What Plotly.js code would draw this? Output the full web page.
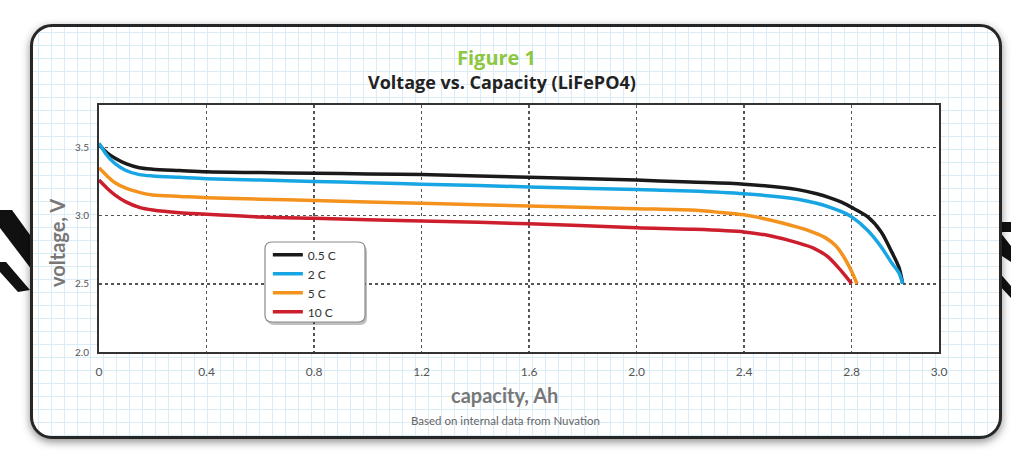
<!DOCTYPE html>
<html>
<head>
<meta charset="utf-8">
<script src="https://cdn.plot.ly/plotly-3.0.1.min.js"></script>
<style>
  html, body { margin:0; padding:0; background:#ffffff; }
  #wrap { position:relative; width:1011px; height:473px; overflow:hidden; background:#fff; }
  #deco { position:absolute; left:0; top:0; }
  #card { position:absolute; left:30px; top:24px; width:966px; height:409px;
          border:3px solid #262626; border-radius:22px;
          box-shadow: 0 3px 8px rgba(0,0,0,0.45);
          background-color:#ffffff;
          background-image:
            linear-gradient(to right, #d9ecf7 1px, transparent 1px),
            linear-gradient(to bottom, #d9ecf7 1px, transparent 1px);
          background-size: 13px 13px; background-position: 5px 5px; }
  #chart { position:absolute; left:0; top:0; width:1011px; height:473px; }
</style>
</head>
<body>
<div id="wrap">
  <svg id="deco" width="1011" height="473">
    <polygon points="0,210 12,210 38,246 38,278 0,228" fill="#111"/>
    <polygon points="0,262 6,262 30,290 18,292 0,272" fill="#111"/>
    <polygon points="978,222 1011,222 1011,232 1000,232 1011,246 1011,262 978,240" fill="#111"/>
    <polygon points="985,256 1011,286 1011,298 985,270" fill="#111"/>
  </svg>
  <div id="card"></div>
  <div id="chart"></div>
</div>
<script>
// ---- data ----
const seriesNames = ["0.5 C", "2 C", "5 C", "10 C"];

const cap05 = [0, 0.03, 0.06, 0.10, 0.15, 0.20, 0.30, 0.40, 0.60, 0.80, 1.00, 1.20, 1.60, 2.00, 2.20, 2.40, 2.60, 2.67, 2.72, 2.76, 2.80, 2.86, 2.91, 2.95, 2.976, 2.99];
const volt05 = [3.52, 3.46, 3.42, 3.38, 3.35, 3.34, 3.33, 3.32, 3.315, 3.31, 3.305, 3.30, 3.28, 3.26, 3.245, 3.23, 3.19, 3.16, 3.13, 3.10, 3.06, 2.99, 2.88, 2.73, 2.62, 2.50];

const cap2 = [0, 0.03, 0.06, 0.10, 0.15, 0.20, 0.30, 0.40, 0.60, 0.80, 1.00, 1.20, 1.60, 2.00, 2.20, 2.40, 2.60, 2.67, 2.72, 2.76, 2.80, 2.86, 2.91, 2.95, 2.976, 2.99];
const volt2 = [3.53, 3.44, 3.38, 3.33, 3.30, 3.29, 3.28, 3.27, 3.26, 3.25, 3.24, 3.23, 3.21, 3.19, 3.18, 3.16, 3.12, 3.09, 3.06, 3.03, 2.99, 2.89, 2.77, 2.65, 2.58, 2.50];

const cap5 = [0, 0.03, 0.06, 0.10, 0.15, 0.20, 0.30, 0.40, 0.60, 0.80, 1.00, 1.20, 1.60, 2.00, 2.20, 2.30, 2.40, 2.50, 2.58, 2.64, 2.70, 2.74, 2.77, 2.80, 2.82];
const volt5 = [3.35, 3.29, 3.24, 3.20, 3.17, 3.15, 3.14, 3.13, 3.12, 3.11, 3.10, 3.09, 3.07, 3.05, 3.04, 3.025, 3.005, 2.965, 2.925, 2.89, 2.84, 2.78, 2.70, 2.59, 2.50];

const cap10 = [0, 0.03, 0.06, 0.10, 0.15, 0.20, 0.30, 0.40, 0.60, 0.80, 1.00, 1.20, 1.60, 2.00, 2.20, 2.40, 2.50, 2.60, 2.66, 2.71, 2.75, 2.78, 2.80];
const volt10 = [3.26, 3.20, 3.15, 3.10, 3.06, 3.04, 3.02, 3.01, 2.99, 2.98, 2.97, 2.96, 2.94, 2.91, 2.90, 2.88, 2.85, 2.80, 2.76, 2.70, 2.62, 2.55, 2.50];

const xTickVals = [0, 0.4, 0.8, 1.2, 1.6, 2.0, 2.4, 2.8, 3.125];
const xTickText = ["0", "0.4", "0.8", "1.2", "1.6", "2.0", "2.4", "2.8", "3.0"];
const yTickVals = [2.0, 2.5, 3.0, 3.5];
const yTickText = ["2.0", "2.5", "3.0", "3.5"];

const colors = ["#1a1a1a", "#17a6e3", "#f4921e", "#cc1e2d"];
const xs = [cap05, cap2, cap5, cap10];
const ys = [volt05, volt2, volt5, volt10];

const traces = seriesNames.map((n, i) => ({
  type: "scatter", mode: "lines", name: n,
  x: xs[i], y: ys[i],
  line: { color: colors[i], width: 3.5, shape: "spline", smoothing: 0.8 },
  hoverinfo: "skip"
}));

const FONT = "Lato, 'Open Sans', sans-serif";
const TFONT = "'Open Sans', Lato, sans-serif";

// legend box (paper coords)
const bx0 = 0.1976, bx1 = 0.3167, byT = 0.4453, byB = 0.1215;
const rx = 7/840, ry = 7/247;
const boxPath = `M ${bx0+rx} ${byT} L ${bx1-rx} ${byT} Q ${bx1} ${byT} ${bx1} ${byT-ry} L ${bx1} ${byB+ry} Q ${bx1} ${byB} ${bx1-rx} ${byB} L ${bx0+rx} ${byB} Q ${bx0} ${byB} ${bx0} ${byB+ry} L ${bx0} ${byT-ry} Q ${bx0} ${byT} ${bx0+rx} ${byT} Z`;
const shadowPath = boxPath.replace(/([\d.]+) ([\d.]+)/g, (m, a, b) => `${(+a + 2/840).toFixed(5)} ${(+b - 3/247).toFixed(5)}`);

const layout = {
  width: 1011, height: 473,
  margin: { l: 99, r: 72, t: 105, b: 121 },
  paper_bgcolor: "rgba(0,0,0,0)",
  plot_bgcolor: "#ffffff",
  font: { family: FONT, color: "#555" },
  showlegend: true,
  legend: {
    x: 0.201, y: 0.452, xanchor: "left", yanchor: "top",
    bgcolor: "rgba(0,0,0,0)", borderwidth: 0,
    font: { family: FONT, size: 12, color: "#333" },
    tracegroupgap: 0, itemwidth: 30
  },
  xaxis: {
    range: [0, 3.125], tickvals: xTickVals, ticktext: xTickText,
    showgrid: true, gridcolor: "#555", griddash: "dot", gridwidth: 1.5,
    zeroline: false, showline: true, mirror: true, linecolor: "#333", linewidth: 2,
    ticks: "", ticklabelstandoff: 8,
    tickfont: { family: FONT, size: 12, color: "#555" }
  },
  yaxis: {
    range: [2.0, 3.81], tickvals: yTickVals, ticktext: yTickText,
    showgrid: true, gridcolor: "#555", griddash: "dot", gridwidth: 1.5,
    zeroline: false, showline: true, mirror: true, linecolor: "#333", linewidth: 2,
    ticks: "", ticklabelstandoff: 6,
    tickfont: { family: FONT, size: 10, color: "#555" }
  },
  shapes: [
    { type: "path", xref: "paper", yref: "paper", path: shadowPath, layer: "above",
      fillcolor: "rgba(0,0,0,0.25)", line: { width: 0 } },
    { type: "path", xref: "paper", yref: "paper", path: boxPath, layer: "above",
      fillcolor: "#ffffff", line: { color: "#8a8a8a", width: 1.2 } }
  ],
  annotations: [
    { text: "<b>Figure 1</b>", xref: "paper", yref: "paper", x: 0.5, y: 1,
      xanchor: "center", yanchor: "middle", showarrow: false,
      font: { family: TFONT, size: 20, color: "#8dc63f" } },
    { text: "<b>Voltage vs. Capacity (LiFePO4)</b>", xref: "paper", yref: "paper", x: 0.5, y: 1,
      xanchor: "center", yanchor: "middle", showarrow: false,
      font: { family: TFONT, size: 18, color: "#222" } },
    { text: "<b>capacity, Ah</b>", xref: "paper", yref: "paper", x: 0.5, y: 0,
      xanchor: "center", yanchor: "middle", showarrow: false,
      font: { family: FONT, size: 20, color: "#777" } },
    { text: "<b>voltage, V</b>", xref: "paper", yref: "paper", x: 0, y: 0.5, textangle: -90,
      xanchor: "center", yanchor: "middle", showarrow: false,
      font: { family: FONT, size: 20, color: "#777" } },
    { text: "Based on internal data from Nuvation", xref: "paper", yref: "paper", x: 0.5, y: 0,
      xanchor: "center", yanchor: "middle", showarrow: false,
      font: { family: FONT, size: 11.5, color: "#666" } }
  ]
};
// pixel offsets for annotations (styles, not data)
layout.annotations[0].yshift = 105 - 57;  layout.annotations[0].xshift = -23;
layout.annotations[1].yshift = 105 - 82;  layout.annotations[1].xshift = -17;
layout.annotations[2].yshift = 352 - 395; layout.annotations[2].xshift = -15;
layout.annotations[3].xshift = 57 - 99;   layout.annotations[3].yshift = 228.5 - 243;
layout.annotations[4].yshift = 352 - 420; layout.annotations[4].xshift = -14;

Plotly.newPlot("chart", traces, layout, { displayModeBar: false, staticPlot: true });
</script>
</body>
</html>
